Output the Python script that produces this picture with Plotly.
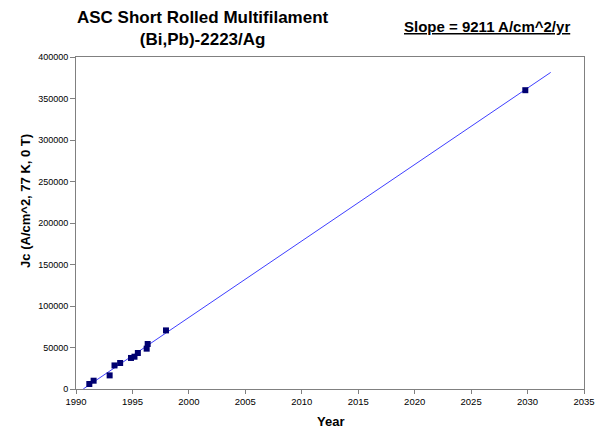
import plotly.graph_objects as go

# Data
years = [1991.18, 1991.56, 1992.98, 1993.41, 1993.91, 1994.87, 1995.18, 1995.48,
         1996.26, 1996.35, 1997.97, 2029.8]
jc = [6000, 10000, 16400, 28400, 31300, 37400, 38900, 43400, 48600, 54200, 70600, 360000]

fit_years = [1990.64, 2032.05]
slope = 9211
fit_jc = [slope * (y - fit_years[0]) for y in fit_years]

x_ticks = list(range(1990, 2036, 5))
y_ticks = list(range(0, 400001, 50000))

title_text = "<b>ASC Short Rolled Multifilament<br>(Bi,Pb)-2223/Ag</b>"
slope_text = "<b><u>Slope = 9211 A/cm^2/yr</u></b>"
x_title = "<b>Year</b>"
y_title = "<b>Jc (A/cm^2, 77 K, 0 T)</b>"

W, H = 607, 430
L, R, T, B = 76, 14, 57, 41
pw, ph = W - L - R, H - T - B


def px(x):
    return (x - L) / pw


def py(y):
    return (H - B - y) / ph


fig = go.Figure()
fig.add_trace(go.Scatter(x=fit_years, y=fit_jc, mode="lines",
                         line=dict(color="#3f3fff", width=1), showlegend=False))
fig.add_trace(go.Scatter(x=years, y=jc, mode="markers",
                         marker=dict(symbol="square", size=6, color="#000070",
                                     line=dict(width=0)), showlegend=False))

font = "Liberation Sans, Arial, sans-serif"
fig.update_layout(
    width=W, height=H,
    margin=dict(l=L, r=R, t=T, b=B),
    paper_bgcolor="white", plot_bgcolor="white",
    font=dict(family=font, color="black"),
    annotations=[
        dict(text=title_text, xref="paper", yref="paper", x=px(205), y=py(28),
             xanchor="center", yanchor="middle", showarrow=False, font=dict(size=17)),
        dict(text=slope_text, xref="paper", yref="paper", x=px(494), y=py(27),
             xanchor="center", yanchor="middle", showarrow=False, font=dict(size=15)),
        dict(text=x_title, xref="paper", yref="paper", x=px(334.5), y=py(421),
             xanchor="center", yanchor="middle", showarrow=False, font=dict(size=13)),
        dict(text=y_title, xref="paper", yref="paper", x=px(25), y=py(201),
             xanchor="center", yanchor="middle", textangle=-90, showarrow=False,
             font=dict(size=13)),
    ],
)

fig.update_xaxes(range=[1990, 2035], tickvals=x_ticks, ticktext=[str(t) for t in x_ticks],
                 showgrid=False, zeroline=False, showline=True, linecolor="#808080",
                 linewidth=1, mirror=True, ticks="outside", ticklen=4, tickcolor="#808080",
                 tickfont=dict(size=9.5))
fig.update_yaxes(range=[0, 400000], tickvals=y_ticks, ticktext=[str(t) for t in y_ticks],
                 showgrid=False, zeroline=False, showline=True, linecolor="#808080",
                 linewidth=1, mirror=True, ticks="outside", ticklen=5, tickcolor="#808080",
                 tickfont=dict(size=9))

fig.write_html("out.html", config={"displayModeBar": False},
               post_script="document.body.style.margin='0';")
